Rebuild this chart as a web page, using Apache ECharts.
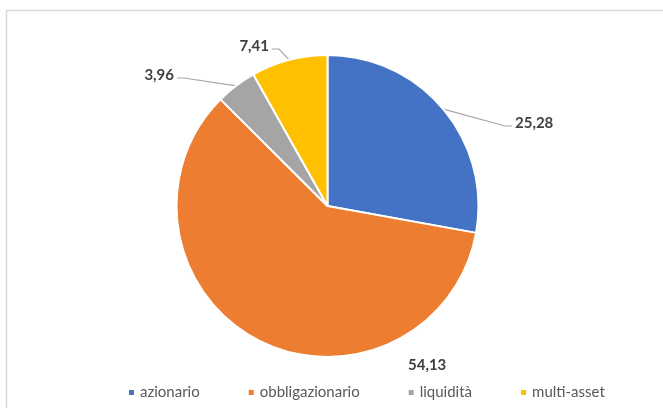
<!DOCTYPE html>
<html>
<head>
<meta charset="utf-8">
<script src="https://cdn.jsdelivr.net/npm/echarts@6/dist/echarts.min.js"></script>
<style>
  html, body { margin: 0; padding: 0; background: #fff; }
  #chart { width: 663px; height: 408px; }
</style>
</head>
<body>
<div id="chart"></div>
<script>
// Asset-class breakdown
const categories = ['azionario', 'obbligazionario', 'liquidità', 'multi-asset'];
const values = [25.28, 54.13, 3.96, 7.41];
const colors = ['#4472C4', '#ED7D31', '#A5A5A5', '#FFC000'];

// Where each value label sits: [x, y, align]
const labelSpots = [
  [515, 123, 'left'],
  [408, 365, 'left'],
  [174, 75, 'right'],
  [269, 46, 'right']
];
const showLeader = [true, false, true, true];

const chart = echarts.init(document.getElementById('chart'), null, { renderer: 'canvas' });

const fmt = v => v.toFixed(2).replace('.', ',');

chart.setOption({
  animation: false,
  backgroundColor: '#ffffff',
  graphic: [{
    type: 'rect',
    shape: { x: 6.5, y: 10.5, width: 720, height: 460 },
    style: { fill: 'none', stroke: '#D9D9D9', lineWidth: 1.5 },
    silent: true
  }],
  legend: {
    data: categories,
    left: 122,
    top: 380,
    itemWidth: 7,
    itemHeight: 7,
    itemGap: 47,
    icon: 'rect',
    textStyle: { color: '#595959', fontSize: 15, fontFamily: 'Lato, "Open Sans", sans-serif' }
  },
  series: [{
    type: 'pie',
    center: [327.5, 206],
    radius: 151,
    startAngle: 90,
    clockwise: true,
    avoidLabelOverlap: false,
    itemStyle: { borderColor: '#ffffff', borderWidth: 2 },
    label: {
      show: true,
      position: 'outside',
      color: '#404040',
      fontSize: 15,
      fontWeight: 'bold',
      fontFamily: 'Lato, "Open Sans", sans-serif',
      formatter: p => fmt(p.value)
    },
    labelLine: {
      show: true,
      length: 8,
      length2: 8,
      lineStyle: { color: '#A6A6A6', width: 1.2 }
    },
    labelLayout: function (p) {
      const s = labelSpots[p.dataIndex];
      const out = { x: s[0], y: s[1], align: s[2], verticalAlign: 'middle' };
      const pts = p.labelLinePoints;
      if (showLeader[p.dataIndex] && pts && pts.length) {
        const start = pts[0];
        const edge = s[2] === 'left' ? s[0] - 3 : s[0] + 3;
        const elbow = s[2] === 'left' ? edge - 7 : edge + 7;
        out.labelLinePoints = [start, [elbow, s[1] + 3], [edge, s[1] + 3]];
      }
      return out;
    },
    data: categories.map((name, i) => ({
      name: name,
      value: values[i],
      itemStyle: { color: colors[i] },
      labelLine: { show: showLeader[i] }
    }))
  }]
});
</script>
</body>
</html>
